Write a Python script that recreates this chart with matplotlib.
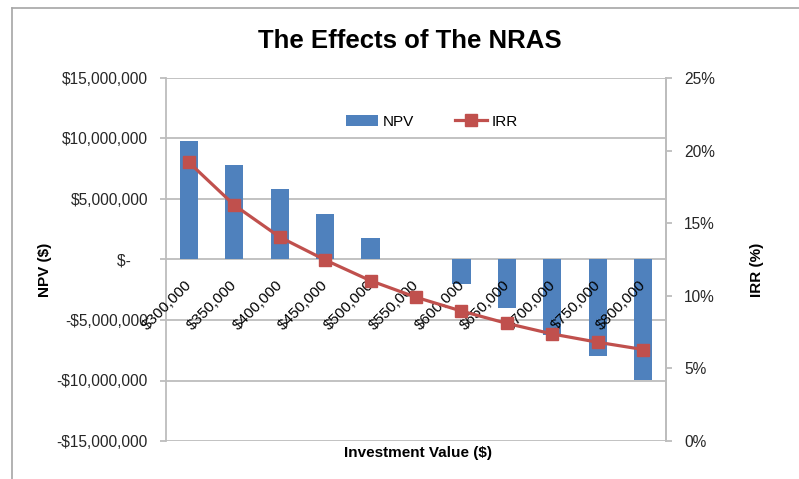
import matplotlib
matplotlib.use("Agg")
import matplotlib.pyplot as plt
from matplotlib.lines import Line2D
from matplotlib.ticker import FuncFormatter, FixedLocator
import numpy as np

categories = ["$300,000", "$350,000", "$400,000", "$450,000", "$500,000", "$550,000",
              "$600,000", "$650,000", "$700,000", "$750,000", "$800,000"]
npv = [9.8e6, 7.8e6, 5.8e6, 3.8e6, 1.8e6, 0.0, -2.0e6, -4.0e6, -6.2e6, -8.0e6, -9.95e6]
irr = [0.192, 0.1625, 0.1405, 0.1247, 0.1104, 0.099, 0.0895, 0.081, 0.0737, 0.068, 0.063]
left_ticks = [-15e6, -10e6, -5e6, 0, 5e6, 10e6, 15e6]
left_labels = ["-$15,000,000", "-$10,000,000", "-$5,000,000", "$-    ",
               "$5,000,000", "$10,000,000", "$15,000,000"]
right_ticks = [0, 0.05, 0.10, 0.15, 0.20, 0.25]

FONT = ["Liberation Sans", "DejaVu Sans"]
plt.rcParams['font.family'] = FONT

W, H = 799, 479
fig = plt.figure(figsize=(W / 100, H / 100), dpi=100)
ax = fig.add_axes([166 / W, 1 - 441 / H, 500 / W, 363 / H])

bar_color = "#4F81BD"
line_color = "#C0504D"
grid_color = "#BDBDBD"
text_color = "#262626"

x = np.arange(len(categories))
ax.bar(x, npv, width=0.4, color=bar_color, zorder=2, label="NPV")
ax.set_xlim(-0.5, len(categories) - 0.5)
ax.set_ylim(-15e6, 15e6)
ax.yaxis.set_major_locator(FixedLocator(left_ticks))
ax.set_yticklabels(left_labels)
for yv in left_ticks:
    ax.axhline(yv, color=grid_color, lw=1.3, zorder=1)
ax.set_xticks([])
for s in ["top", "bottom"]:
    ax.spines[s].set_visible(False)
for s in ["left", "right"]:
    ax.spines[s].set_color(grid_color)
    ax.spines[s].set_linewidth(1.3)
ax.tick_params(axis="y", length=4, width=1.3, color=grid_color, pad=9,
               labelsize=11.2, labelcolor=text_color)

for xi, lab in zip(x, categories):
    ax.annotate(lab, xy=(xi, 0), xytext=(-3, -13), textcoords="offset points",
                rotation=45, ha="right", va="top", rotation_mode="anchor",
                fontsize=11, color="black", zorder=3)

ax2 = ax.twinx()
ax2.plot(x, irr, color=line_color, lw=2.3, marker="s", markersize=9,
         markerfacecolor=line_color, markeredgecolor=line_color, label="IRR")
ax2.set_ylim(0, 0.25)
ax2.yaxis.set_major_locator(FixedLocator(right_ticks))
ax2.yaxis.set_major_formatter(FuncFormatter(lambda v, p: f"{v*100:.0f}%"))
for s in ["top", "bottom", "left"]:
    ax2.spines[s].set_visible(False)
ax2.spines["right"].set_color(grid_color)
ax2.spines["right"].set_linewidth(1.3)
ax2.tick_params(axis="y", length=4, width=1.3, color=grid_color, pad=9,
                labelsize=11.2, labelcolor=text_color)

h1, l1 = ax.get_legend_handles_labels()
h2, l2 = ax2.get_legend_handles_labels()
leg = ax2.legend(h1 + h2, l1 + l2, loc="center", bbox_to_anchor=(0.532, 0.88),
                 ncol=2, frameon=False, fontsize=11, handlelength=2.1,
                 columnspacing=2.7, handletextpad=0.3)

fig.text(410 / W, 1 - 41 / H, "The Effects of The NRAS", ha="center", va="center",
         fontsize=18.5, fontweight="bold", color="black")
fig.text(45 / W, 1 - 270 / H, "NPV ($)", ha="center", va="center", rotation=90,
         fontsize=11, fontweight="bold")
fig.text(757 / W, 1 - 270 / H, "IRR (%)", ha="center", va="center", rotation=90,
         fontsize=11, fontweight="bold")
fig.text(418 / W, 1 - 453 / H, "Investment Value ($)", ha="center", va="center",
         fontsize=11, fontweight="bold")

border = "#A6A6A6"
fig.add_artist(Line2D([12 / W, 12 / W], [0, 1 - 8 / H], transform=fig.transFigure,
                      color=border, lw=1.2))
fig.add_artist(Line2D([12 / W, 1], [1 - 8 / H, 1 - 8 / H], transform=fig.transFigure,
                      color=border, lw=1.2))

fig.savefig("out.png", dpi=100)
